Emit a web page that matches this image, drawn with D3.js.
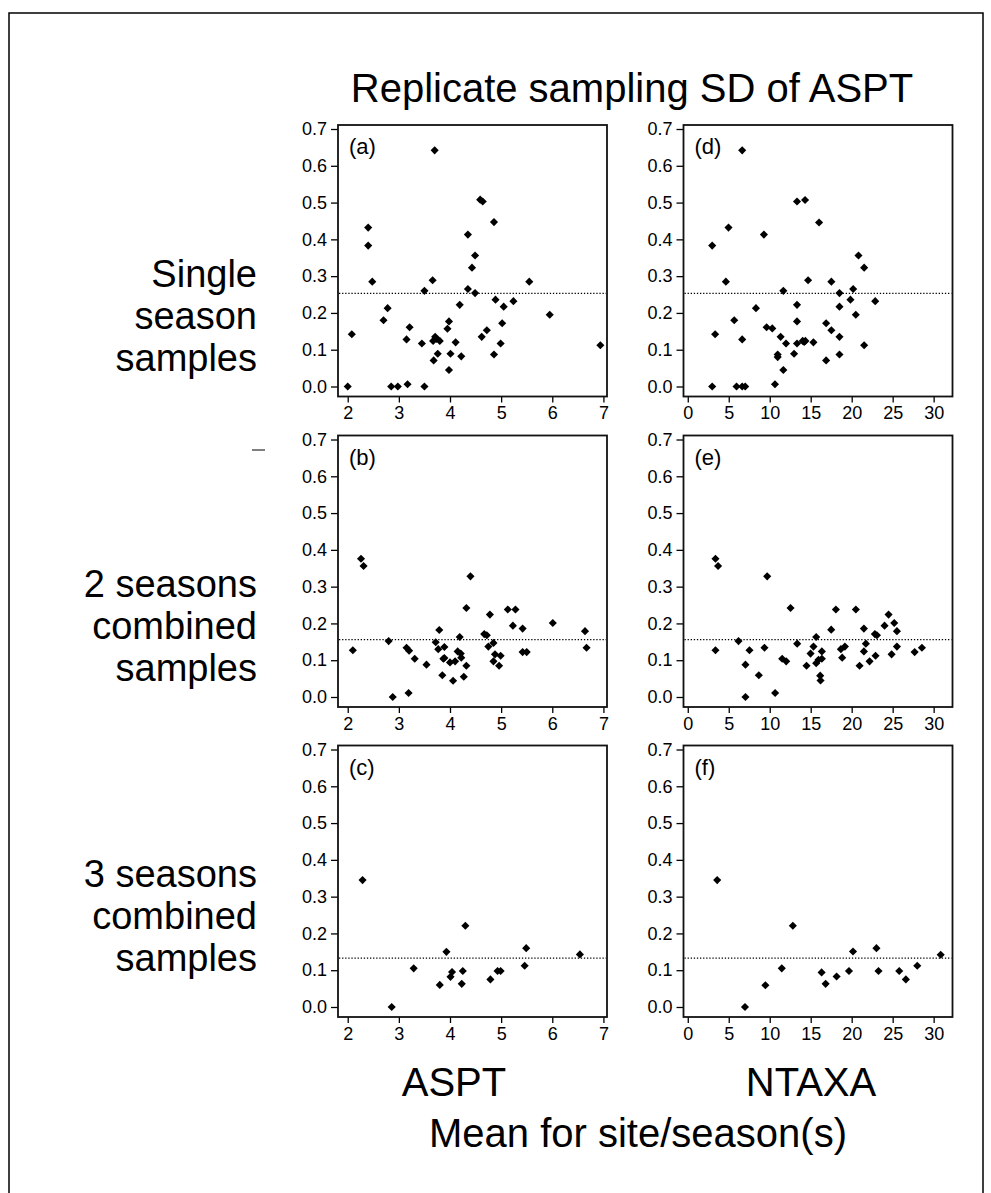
<!DOCTYPE html>
<html>
<head>
<meta charset="utf-8">
<script src="https://cdn.jsdelivr.net/npm/d3@7"></script>
<style>
  body { margin: 0; background: #fff; }
  svg { display: block; font-family: "Liberation Sans", Arial, sans-serif; }
</style>
</head>
<body>
<div id="root"></div>
<script>
// panel (a): ASPT, single season
const aX = [2.40, 2.48, 2.00, 2.08, 2.70, 2.78, 2.85, 2.98, 3.17, 3.15, 3.21, 3.45, 3.50, 3.50, 3.66, 3.68, 3.67, 3.71, 3.74, 3.80, 3.76, 3.95, 3.98, 3.98, 4.01, 4.11, 4.22, 4.19, 4.35, 4.43, 4.49, 4.49, 4.62, 4.72, 4.86, 4.89, 4.99, 5.02, 5.05, 5.24, 5.55, 5.95, 2.40, 3.70, 4.59, 4.64, 4.86, 4.35, 6.94];
const aY = [0.383, 0.285, 0.0, 0.142, 0.180, 0.213, 0.0, 0.0, 0.006, 0.128, 0.161, 0.117, 0.0, 0.260, 0.289, 0.071, 0.124, 0.135, 0.129, 0.124, 0.089, 0.157, 0.177, 0.045, 0.089, 0.120, 0.082, 0.222, 0.265, 0.323, 0.356, 0.254, 0.135, 0.153, 0.087, 0.236, 0.117, 0.172, 0.217, 0.232, 0.285, 0.195, 0.432, 0.642, 0.508, 0.503, 0.447, 0.413, 0.112];

// panel (d): NTAXA, single season
const dX = [2.98, 2.98, 3.34, 4.65, 5.67, 5.95, 6.64, 7.01, 6.64, 8.32, 9.62, 10.31, 10.64, 10.97, 10.97, 11.33, 11.66, 11.66, 11.99, 12.97, 13.33, 13.33, 13.33, 14.02, 14.35, 14.68, 15.33, 16.88, 16.88, 17.52, 17.52, 18.51, 18.51, 18.51, 18.51, 19.85, 20.18, 20.50, 20.83, 21.52, 21.52, 22.87, 4.97, 6.64, 9.29, 13.33, 14.31, 16.02, 14.20];
const dY = [0.383, 0.0, 0.142, 0.285, 0.180, 0.0, 0.0, 0.0, 0.128, 0.213, 0.161, 0.158, 0.006, 0.087, 0.080, 0.135, 0.045, 0.260, 0.117, 0.089, 0.117, 0.177, 0.222, 0.124, 0.124, 0.289, 0.120, 0.172, 0.071, 0.153, 0.285, 0.254, 0.217, 0.135, 0.087, 0.236, 0.265, 0.195, 0.356, 0.323, 0.112, 0.232, 0.432, 0.642, 0.413, 0.503, 0.507, 0.446, 0.121];

// panel (b): ASPT, 2 seasons
const bX = [2.10, 2.26, 2.31, 2.80, 2.88, 3.19, 3.15, 3.20, 3.31, 3.54, 3.72, 3.77, 3.79, 3.85, 3.87, 3.89, 3.89, 4.00, 4.06, 4.10, 4.15, 4.19, 4.21, 4.22, 4.27, 4.32, 4.32, 4.40, 4.67, 4.72, 4.75, 4.78, 4.85, 4.85, 4.88, 4.96, 4.99, 5.13, 5.23, 5.28, 5.42, 5.42, 5.50, 6.01, 6.64, 6.67];
const bY = [0.127, 0.376, 0.356, 0.152, 0.0, 0.011, 0.134, 0.126, 0.104, 0.088, 0.149, 0.130, 0.182, 0.059, 0.104, 0.136, 0.106, 0.094, 0.044, 0.097, 0.124, 0.163, 0.118, 0.107, 0.055, 0.085, 0.242, 0.328, 0.171, 0.168, 0.137, 0.224, 0.147, 0.097, 0.116, 0.085, 0.112, 0.238, 0.194, 0.238, 0.186, 0.122, 0.122, 0.201, 0.179, 0.134];

// panel (e): NTAXA, 2 seasons
const eX = [3.38, 3.38, 3.70, 6.19, 7.04, 7.04, 7.53, 8.67, 9.36, 9.69, 10.66, 11.52, 12.01, 12.54, 13.35, 14.49, 14.98, 15.34, 15.67, 15.67, 15.95, 16.16, 16.20, 16.36, 16.36, 17.50, 18.07, 18.68, 18.84, 19.17, 20.51, 20.96, 21.49, 21.49, 21.73, 22.18, 22.83, 23.08, 22.91, 24.01, 24.50, 24.87, 25.19, 25.52, 25.52, 27.68, 28.57];
const eY = [0.127, 0.376, 0.356, 0.152, 0.0, 0.088, 0.127, 0.059, 0.134, 0.328, 0.011, 0.104, 0.097, 0.242, 0.145, 0.085, 0.118, 0.137, 0.163, 0.092, 0.101, 0.058, 0.045, 0.124, 0.104, 0.183, 0.238, 0.130, 0.107, 0.137, 0.238, 0.085, 0.186, 0.124, 0.145, 0.097, 0.171, 0.168, 0.112, 0.194, 0.224, 0.116, 0.201, 0.179, 0.137, 0.122, 0.134];

// panel (c): ASPT, 3 seasons
const cX = [2.29, 2.86, 3.29, 3.80, 3.93, 4.01, 4.04, 4.23, 4.25, 4.30, 4.79, 4.93, 4.99, 5.46, 5.49, 6.54];
const cY = [0.345, 0.0, 0.105, 0.060, 0.150, 0.082, 0.095, 0.063, 0.098, 0.221, 0.075, 0.098, 0.098, 0.112, 0.160, 0.143];

// panel (f): NTAXA, 3 seasons
const fX = [3.59, 6.98, 9.47, 11.47, 12.82, 16.33, 16.82, 18.16, 19.67, 20.16, 23.02, 23.27, 25.80, 26.61, 28.00, 30.86];
const fY = [0.345, 0.0, 0.059, 0.105, 0.221, 0.094, 0.063, 0.083, 0.098, 0.151, 0.160, 0.098, 0.098, 0.075, 0.112, 0.142];

// dotted reference level per row
const refLevels = [0.253, 0.156, 0.133];

const yTicks = [0, 0.1, 0.2, 0.3, 0.4, 0.5, 0.6, 0.7];
const asptTicks = [2, 3, 4, 5, 6, 7];
const ntaxaTicks = [0, 5, 10, 15, 20, 25, 30];
const panelLetters = ["(a)", "(d)", "(b)", "(e)", "(c)", "(f)"];
const rowLabels = [["Single", "season", "samples"], ["2 seasons", "combined", "samples"], ["3 seasons", "combined", "samples"]];
const colLabels = ["ASPT", "NTAXA"];

const width = 991, height = 1193;
const svg = d3.select("#root").append("svg")
  .attr("width", width)
  .attr("height", height);

// outer frame (bottom edge is off the page)
svg.append("path")
  .attr("d", `M9,${height} V13 H983 V${height}`)
  .attr("fill", "none")
  .attr("stroke", "#000")
  .attr("stroke-width", 1.5);

const colLeft = [338, 683.5];
const panelW = 269;
const rowTop = [125, 435.5, 745.5];
const panelH = 271.5;

const xDomains = [[1.81, 7.07], [-0.52, 32.3]];
const xTickSets = [asptTicks, ntaxaTicks];

const panels = [
  { r: 0, c: 0, xs: aX, ys: aY },
  { r: 0, c: 1, xs: dX, ys: dY },
  { r: 1, c: 0, xs: bX, ys: bY },
  { r: 1, c: 1, xs: eX, ys: eY },
  { r: 2, c: 0, xs: cX, ys: cY },
  { r: 2, c: 1, xs: fX, ys: fY }
];

const diamond = d3.symbol().type(d3.symbolSquare).size(33);

panels.forEach((p, i) => {
  const x0 = colLeft[p.c], y0 = rowTop[p.r];
  const x = d3.scaleLinear().domain(xDomains[p.c]).range([x0, x0 + panelW]);
  const y = d3.scaleLinear().domain([-0.0272, 0.7109]).range([y0 + panelH, y0]);

  const g = svg.append("g");

  // axes
  const xAxis = d3.axisBottom(x).tickValues(xTickSets[p.c]).tickFormat(d3.format("d"))
    .tickSize(6).tickSizeOuter(0).tickPadding(4);
  const yAxis = d3.axisLeft(y).tickValues(yTicks).tickFormat(d3.format(".1f"))
    .tickSize(7).tickSizeOuter(0).tickPadding(4);

  const gx = g.append("g")
    .attr("transform", `translate(0,${y0 + panelH})`)
    .call(xAxis);
  const gy = g.append("g")
    .attr("transform", `translate(${x0},0)`)
    .call(yAxis);
  [gx, gy].forEach(a => {
    a.select(".domain").remove();
    a.selectAll(".tick line").attr("stroke", "#000").attr("stroke-width", 1.3);
    a.selectAll(".tick text")
      .attr("fill", "#000")
      .style("font-size", "18px")
      .style("font-family", "'Liberation Sans', Arial, sans-serif");
  });

  // reference dotted line
  g.append("line")
    .attr("x1", x0 + 1).attr("x2", x0 + panelW - 1)
    .attr("y1", y(refLevels[p.r])).attr("y2", y(refLevels[p.r]))
    .attr("stroke", "#000")
    .attr("stroke-width", 1.3)
    .attr("stroke-dasharray", "1.3,1.8");

  // points
  g.selectAll("path.pt")
    .data(p.xs.map((v, k) => [v, p.ys[k]]))
    .enter()
    .append("path")
    .attr("class", "pt")
    .attr("d", diamond)
    .attr("transform", d => `translate(${x(d[0])},${y(d[1])}) rotate(45)`)
    .attr("fill", "#000");

  // frame
  g.append("rect")
    .attr("x", x0).attr("y", y0)
    .attr("width", panelW).attr("height", panelH)
    .attr("fill", "none")
    .attr("stroke", "#111")
    .attr("stroke-width", 1.8);

  // panel letter
  g.append("text")
    .attr("x", x0 + 11)
    .attr("y", y0 + 29)
    .style("font-size", "22px")
    .text(panelLetters[i]);
});

// title
svg.append("text")
  .attr("x", 632)
  .attr("y", 102)
  .attr("text-anchor", "middle")
  .style("font-size", "40px")
  .text("Replicate sampling SD of ASPT");

// row labels
const rowFirstBaseline = [287, 597, 887];
rowLabels.forEach((lines, r) => {
  lines.forEach((t, k) => {
    svg.append("text")
      .attr("x", 257)
      .attr("y", rowFirstBaseline[r] + k * 42)
      .attr("text-anchor", "end")
      .style("font-size", "38px")
      .text(t);
  });
});

// stray dash left of panel (b)
svg.append("line")
  .attr("x1", 252).attr("x2", 265)
  .attr("y1", 450).attr("y2", 450)
  .attr("stroke", "#000")
  .attr("stroke-width", 1);

// column labels and shared x title
const colCenters = [454, 811];
colLabels.forEach((t, c) => {
  svg.append("text")
    .attr("x", colCenters[c])
    .attr("y", 1096)
    .attr("text-anchor", "middle")
    .style("font-size", "40px")
    .text(t);
});

svg.append("text")
  .attr("x", 638)
  .attr("y", 1147)
  .attr("text-anchor", "middle")
  .style("font-size", "40px")
  .text("Mean for site/season(s)");
</script>
</body>
</html>
